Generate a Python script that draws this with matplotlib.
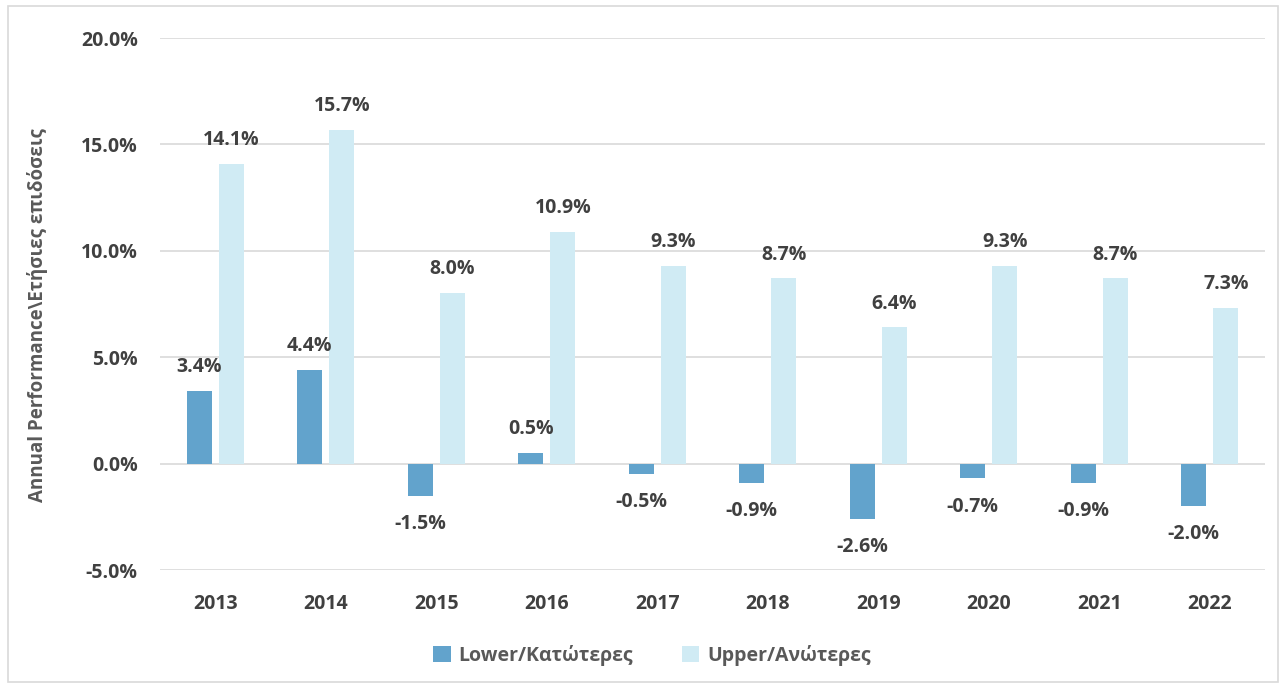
import matplotlib
matplotlib.use("Agg")
import matplotlib.pyplot as plt
import numpy as np
from matplotlib.patches import Rectangle

years = ["2013", "2014", "2015", "2016", "2017", "2018", "2019", "2020", "2021", "2022"]
lower = [3.4, 4.4, -1.5, 0.5, -0.5, -0.9, -2.6, -0.7, -0.9, -2.0]
upper = [14.1, 15.7, 8.0, 10.9, 9.3, 8.7, 6.4, 9.3, 8.7, 7.3]
yticks = [-5, 0, 5, 10, 15, 20]

plt.rcParams['font.family'] = ['Open Sans', 'DejaVu Sans']

c_low = "#62A3CC"
c_up = "#D0EBF4"
txt = "#404040"

fig = plt.figure(figsize=(12.86, 6.88), dpi=100)
fig.patches.append(Rectangle((8/1286, 6/688), 1 - 16/1286, 1 - 12/688, transform=fig.transFigure,
                             fill=False, edgecolor="#D9D9D9", linewidth=1.2))
ax = fig.add_axes([160/1286, 1 - 570/688, 1105/1286, 532/688])

x = np.arange(len(years))
w = 0.23
off = 0.145
b1 = ax.bar(x - off, lower, w, color=c_low, label="Lower/Κατώτερες", zorder=3)
b2 = ax.bar(x + off, upper, w, color=c_up, label="Upper/Ανώτερες", zorder=3)

for bars, vals in ((b1, lower), (b2, upper)):
    for b, v in zip(bars, vals):
        cx = b.get_x() + b.get_width() / 2
        if v >= 0:
            ax.annotate(f"{v:.1f}%", (cx, v), xytext=(0, 10), textcoords="offset points",
                        ha="center", va="bottom", fontsize=14, fontweight="bold", color=txt)
        else:
            ax.annotate(f"{v:.1f}%", (cx, v), xytext=(0, -13), textcoords="offset points",
                        ha="center", va="top", fontsize=14, fontweight="bold", color=txt)

ax.set_xlim(-0.5, len(years) - 0.5)
ax.set_ylim(-5, 20)
ax.set_yticks(yticks)
ax.set_yticklabels([f"{t:.1f}%" for t in yticks])
ax.set_xticks(x)
ax.set_xticklabels(years)
ax.tick_params(length=0, labelsize=14, colors=txt)
ax.tick_params(axis="x", pad=17)
for lab in ax.get_xticklabels() + ax.get_yticklabels():
    lab.set_fontweight("bold")
ax.tick_params(axis="y", pad=16)
for s in ax.spines.values():
    s.set_visible(False)
ax.grid(axis="y", color="#D9D9D9", linewidth=1.2, zorder=0)
ax.set_axisbelow(True)

fig.text(38/1286, 1 - 315/688, "Annual Performance\\Ετήσιες επιδόσεις", rotation=90,
         ha="center", va="center", fontsize=13.5, fontweight="bold", color="#595959")

leg = fig.legend(handles=[b1, b2], loc="center", bbox_to_anchor=(652/1286, 1 - 655/688),
                 ncol=2, frameon=False, fontsize=14, handlelength=0.9, handleheight=0.9,
                 columnspacing=2.5, handletextpad=0.4)
for t in leg.get_texts():
    t.set_color("#595959")
    t.set_fontweight("bold")

fig.savefig("out.png", dpi=100)
